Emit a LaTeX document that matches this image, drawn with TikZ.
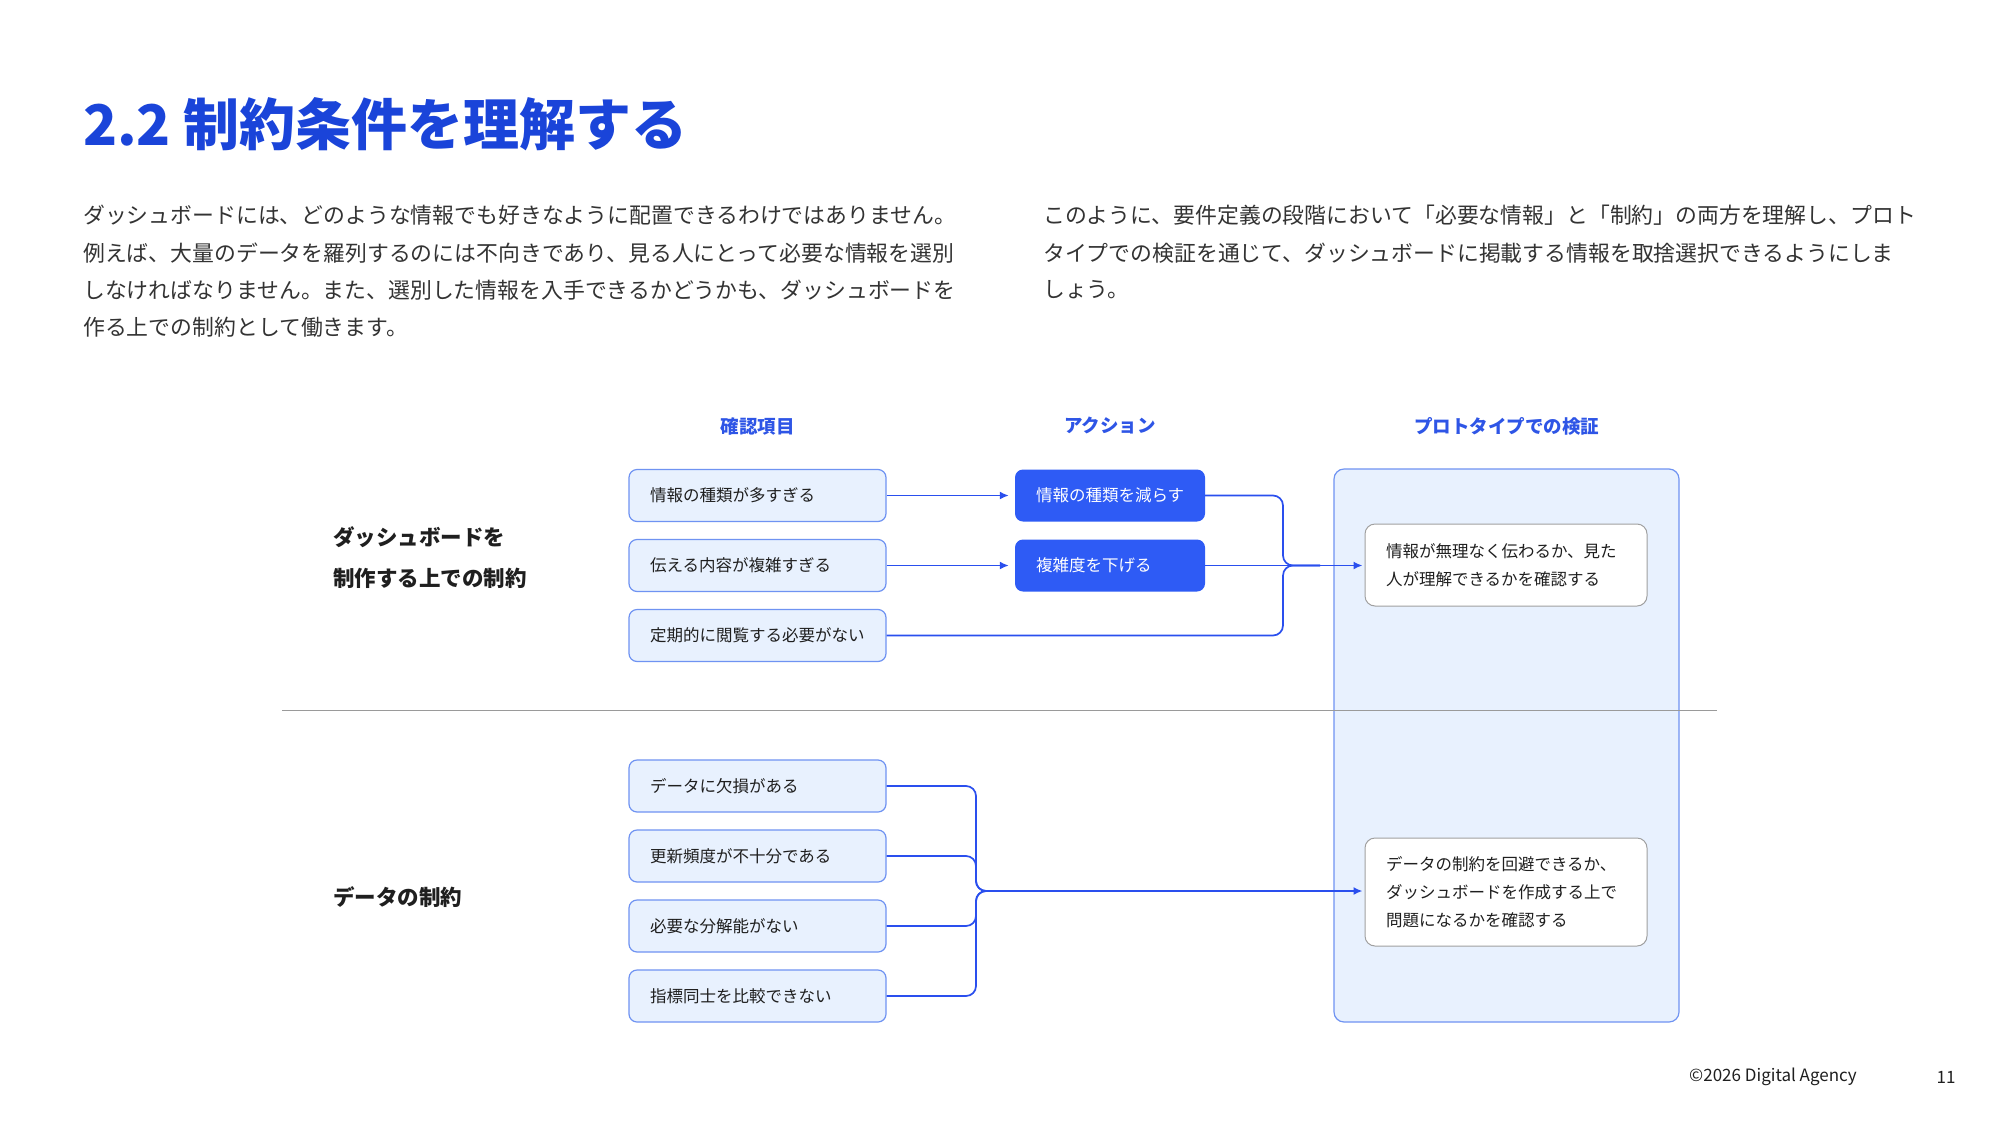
\documentclass[tikz,border=0pt]{standalone}
\usepackage{fontspec}
\setmainfont{Noto Sans CJK JP}
\usetikzlibrary{arrows.meta}
\definecolor{titleblue}{HTML}{1A44D9}
\definecolor{headblue}{HTML}{2E55E6}
\definecolor{actblue}{HTML}{2E5BF5}
\definecolor{lineblue}{HTML}{2A4FEE}
\definecolor{chkfill}{HTML}{E8F1FE}
\definecolor{chkborder}{HTML}{6F93F2}
\definecolor{textdark}{HTML}{1F1F1F}
\definecolor{bodytext}{HTML}{333333}
\definecolor{sepgray}{HTML}{9A9A9A}
\definecolor{wbborder}{HTML}{A0A0A0}
\begin{document}
\begin{tikzpicture}[x=1pt,y=-1pt,
  chkbox/.style={draw=chkborder, fill=chkfill, line width=1.2pt, rounded corners=8pt,
    minimum height=52pt, text width=215pt, inner xsep=21pt, inner ysep=0pt, align=left,
    font=\fontsize{16.5}{20}\selectfont, text=textdark},
  actbox/.style={fill=actblue, draw=none, rounded corners=8pt,
    minimum height=52pt, text width=148pt, inner xsep=21pt, inner ysep=0pt, align=left,
    font=\fontsize{16.5}{20}\selectfont, text=white},
  wbox/.style={draw=wbborder, fill=white, line width=1pt, rounded corners=10pt,
    text width=240pt, inner xsep=21pt, inner ysep=0pt, align=left,
    font=\fontsize{16.5}{28}\selectfont, text=textdark},
  head/.style={font=\bfseries\fontsize{18.5}{22}\selectfont, text=headblue, inner sep=0pt},
  body/.style={anchor=west, inner sep=0pt, font=\fontsize{21.85}{26}\selectfont, text=bodytext},
  side/.style={anchor=west, inner sep=0pt, align=left, font=\bfseries\fontsize{21.5}{41}\selectfont, text=textdark},
  conn/.style={draw=lineblue, line width=1.7pt, rounded corners=10pt},
  arr/.style={-{Latex[length=9pt,width=8pt]}, shorten >=2pt},
  foot/.style={inner sep=0pt, font=\fontsize{17}{20}\selectfont, text=textdark}
]
\useasboundingbox[fill=white] (0,0) rectangle (2000,1125);

% title
\node[anchor=west, inner sep=0pt, font=\bfseries\fontsize{56}{60}\selectfont, text=titleblue] (title) at (83,124) {2.2 制約条件を理解する};

% paragraphs
\node[body] (l1) at (83,215.6) {ダッシュボードには、どのような情報でも好きなように配置できるわけではありません。};
\node[body] (l2) at (83,252.8) {例えば、大量のデータを羅列するのには不向きであり、見る人にとって必要な情報を選別};
\node[body] (l3) at (83,290.0) {しなければなりません。また、選別した情報を入手できるかどうかも、ダッシュボードを};
\node[body] (l4) at (83,327.5) {作る上での制約として働きます。};
\node[body] (r1) at (1043,215.6) {このように、要件定義の段階において「必要な情報」と「制約」の両方を理解し、プロト};
\node[body] (r2) at (1043,252.8) {タイプでの検証を通じて、ダッシュボードに掲載する情報を取捨選択できるようにしま};
\node[body] (r3) at (1043,290.0) {しょう。};

% headers
\node[head] (h1) at (757.5,426) {確認項目};
\node[head] (h2) at (1110,426) {アクション};
\node[head] (h3) at (1506.5,426) {プロトタイプでの検証};

% big verification box
\node[draw=chkborder, fill=chkfill, line width=1.2pt, rounded corners=10pt,
  minimum width=345pt, minimum height=553pt, inner sep=0pt] (big) at (1506.5,745.5) {};

% separator
\coordinate (sepL) at (282,710.5);
\coordinate (sepR) at (1717,710.5);
\draw[sepgray, line width=1pt] (sepL) -- (sepR);

% side labels
\node[side] (s1) at (333,558) {ダッシュボードを\\制作する上での制約};
\node[side] (s2) at (333,897) {データの制約};

% check items (top)
\node[chkbox] (c1) at (757.5,495.5) {情報の種類が多すぎる};
\node[chkbox] (c2) at (757.5,565.5) {伝える内容が複雑すぎる};
\node[chkbox] (c3) at (757.5,635.5) {定期的に閲覧する必要がない};

% actions
\node[actbox] (a1) at (1110,495.5) {情報の種類を減らす};
\node[actbox] (a2) at (1110,565.5) {複雑度を下げる};

% verification boxes
\node[wbox, minimum height=82pt] (v1) at (1506,565) {情報が無理なく伝わるか、見た\\人が理解できるかを確認する};
\node[wbox, minimum height=108pt] (v2) at (1506,892) {データの制約を回避できるか、\\ダッシュボードを作成する上で\\問題になるかを確認する};

% check items (bottom)
\node[chkbox] (d1) at (757.5,786) {データに欠損がある};
\node[chkbox] (d2) at (757.5,856) {更新頻度が不十分である};
\node[chkbox] (d3) at (757.5,926) {必要な分解能がない};
\node[chkbox] (d4) at (757.5,996) {指標同士を比較できない};

% connectors top
\draw[conn, arr] (c1.east) -- ([xshift=-4pt]a1.west);
\draw[conn, arr] (c2.east) -- ([xshift=-4pt]a2.west);
\coordinate (j1) at (1320,565.5);
\draw[conn] (a1.east) -- (1283,495.5) -- (1283,565.5) -- (j1);
\draw[conn] (c3.east) -- (1283,635.5) -- (1283,565.5) -- (j1);
\draw[conn, arr] (a2.east) -- (v1.west |- a2.east);

% connectors bottom
\coordinate (j2) at (1015,891);
\draw[conn] (d1.east) -- (976,786) -- (976,891) -- (j2);
\draw[conn] (d2.east) -- (976,856) -- (976,891) -- (j2);
\draw[conn] (d3.east) -- (976,926) -- (976,891) -- (j2);
\draw[conn] (d4.east) -- (976,996) -- (976,891) -- (j2);
\draw[conn, arr] (j2) -- (v2.west |- j2);

% footer
\node[foot] (f1) at (1773,1077) {©2026 Digital Agency};
\node[foot] (f2) at (1946,1077) {11};
\end{tikzpicture}
\end{document}
